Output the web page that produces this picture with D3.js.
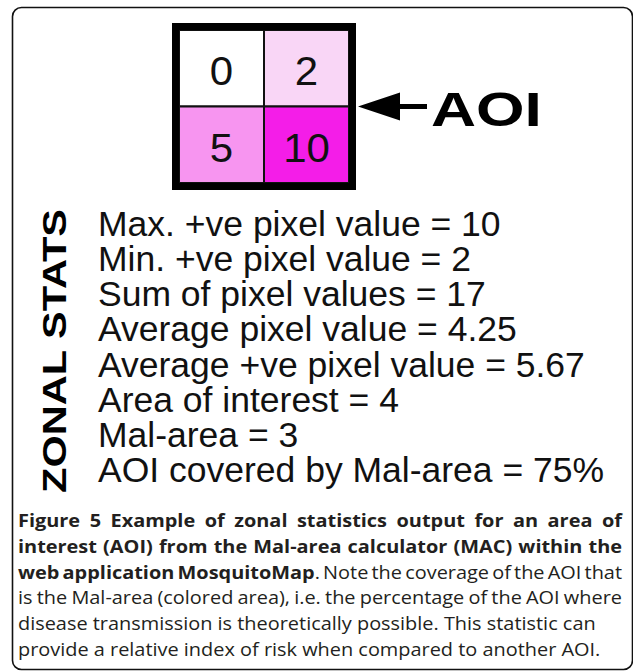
<!DOCTYPE html>
<html>
<head>
<meta charset="utf-8">
<script src="https://cdn.jsdelivr.net/npm/d3@7"></script>
<style>
  html, body { margin: 0; padding: 0; background: #fff; }
  svg { display: block; }
</style>
</head>
<body>
<div id="chart"></div>
<script>
// 2x2 area of interest, pixel values row by row
const gridRows = ["top", "bottom"];
const gridCols = ["left", "right"];
const cellValues = [
    { row: "top", col: "left", value: 0 },
    { row: "top", col: "right", value: 2 },
    { row: "bottom", col: "left", value: 5 },
    { row: "bottom", col: "right", value: 10 }
];
const colorValues = [0, 2, 5, 10];
const colorRange = ["#ffffff", "#f9d6f6", "#f795f0", "#f41de8"];

const statLabels = [
    "Max. +ve pixel value",
    "Min. +ve pixel value",
    "Sum of pixel values",
    "Average pixel value",
    "Average +ve pixel value",
    "Area of interest",
    "Mal-area",
    "AOI covered by Mal-area"
];
const statValues = ["10", "2", "17", "4.25", "5.67", "4", "3", "75%"];

// caption, one entry per printed line: [text, bold]
const captionLines = [
    [["Figure 5 Example of zonal statistics output for an area of", true]],
    [["interest (AOI) from the Mal-area calculator (MAC) within the", true]],
    [["web application MosquitoMap", true], [". Note the coverage of the AOI that", false]],
    [["is the Mal-area (colored area), i.e. the percentage of the AOI where", false]],
    [["disease transmission is theoretically possible. This statistic can", false]],
    [["provide a relative index of risk when compared to another AOI.", false]]
];
const justified = [true, true, true, true, false, false];

const width = 633, height = 672;

const svg = d3.select("#chart")
    .append("svg")
    .attr("width", width)
    .attr("height", height);

// rounded frame of the figure box
svg.append("rect")
    .attr("x", 12.5)
    .attr("y", 7.5)
    .attr("width", 620)
    .attr("height", 662)
    .attr("rx", 9)
    .style("fill", "none")
    .style("stroke", "#111")
    .style("stroke-width", 1.6);

let x = d3.scaleBand().domain(gridCols).range([179, 349]);
let y = d3.scaleBand().domain(gridRows).range([30, 183]);
let color = d3.scaleOrdinal().domain(colorValues).range(colorRange);

let grid = svg.append("g").attr("class", "grid");

grid.selectAll(".cell")
    .data(cellValues)
    .enter()
    .append("rect")
    .attr("class", "cell")
    .attr("x", d => x(d.col))
    .attr("y", d => y(d.row))
    .attr("width", x.bandwidth())
    .attr("height", y.bandwidth())
    .style("fill", d => color(d.value))
    .style("stroke", "#111")
    .style("stroke-width", 2);

grid.append("rect")
    .attr("x", x.range()[0] - 3.5)
    .attr("y", y.range()[0] - 3.5)
    .attr("width", x.range()[1] - x.range()[0] + 7)
    .attr("height", y.range()[1] - y.range()[0] + 7)
    .style("fill", "none")
    .style("stroke", "#000")
    .style("stroke-width", 7);

grid.selectAll(".num")
    .data(cellValues)
    .enter()
    .append("text")
    .attr("class", "num")
    .attr("transform", d => `translate(${x(d.col) + x.bandwidth() / 2}, ${y(d.row) + y.bandwidth() / 2 + 17}) scale(1.05, 1)`)
    .attr("text-anchor", "middle")
    .style("font-family", "'Liberation Sans', Arial, sans-serif")
    .style("font-size", "40px")
    .style("fill", "#111")
    .text(d => d.value);

// arrow pointing at the grid, level with the row divider
let ax = x.range()[1] + 9;
let ay = y(gridRows[1]);
svg.append("path")
    .attr("d", `M${ax},${ay} L${ax + 42},${ay - 14} L${ax + 42},${ay - 2.5} L${ax + 69},${ay - 2.5} L${ax + 69},${ay + 2.5} L${ax + 42},${ay + 2.5} L${ax + 42},${ay + 14} Z`)
    .style("fill", "#000");

svg.append("text")
    .attr("transform", `translate(${ax + 73}, ${ay + 19}) scale(1.3, 1)`)
    .style("font-family", "'Liberation Sans', Arial, sans-serif")
    .style("font-weight", "bold")
    .style("font-size", "48px")
    .style("fill", "#000")
    .text("AOI");

// vertical side label
svg.append("text")
    .attr("transform", "translate(66, 351) rotate(-90) scale(1.26, 1)")
    .attr("text-anchor", "middle")
    .style("font-family", "'Liberation Sans', Arial, sans-serif")
    .style("font-weight", "bold")
    .style("font-size", "33px")
    .style("fill", "#000")
    .text("ZONAL STATS");

let statY = d3.scalePoint()
    .domain(statLabels)
    .range([236, 482]);

svg.append("g")
    .selectAll("text")
    .data(statLabels)
    .enter()
    .append("text")
    .attr("x", 98)
    .attr("y", d => statY(d))
    .style("font-family", "'Liberation Sans', Arial, sans-serif")
    .style("font-size", "35.5px")
    .style("fill", "#111")
    .text((d, i) => d + " = " + statValues[i]);

// caption block
let capY = d3.scalePoint()
    .domain(d3.range(captionLines.length))
    .range([527, 656]);

let capTexts = svg.append("g")
    .selectAll("text")
    .data(captionLines)
    .enter()
    .append("text")
    .style("font-family", "'Open Sans', sans-serif")
    .style("font-size", "18px")
    .style("fill", "#231f20");

capTexts.each(function(line) {
    let t = d3.select(this);
    line.forEach(function(seg) {
        t.append("tspan")
            .style("font-weight", seg[1] ? "bold" : "normal")
            .text(seg[0]);
    });
});

let lastW = capTexts.nodes()[5].getComputedTextLength();
let sx = 583 / lastW;

capTexts.each(function(line, i) {
    let t = d3.select(this);
    t.attr("transform", `translate(18, ${capY(i)}) scale(${sx}, 1)`);
    if (justified[i]) {
        let full = line.map(s => s[0]).join("");
        let spaces = full.split(" ").length - 1;
        let w = this.getComputedTextLength();
        let target = 604 / sx;
        t.attr("word-spacing", (target - w) / spaces);
    }
});
</script>
</body>
</html>
